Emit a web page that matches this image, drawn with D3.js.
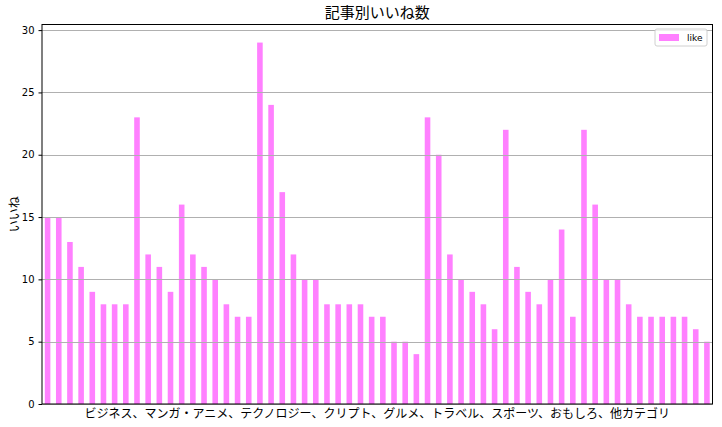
<!DOCTYPE html>
<html><head><meta charset="utf-8">
<script src="https://cdn.jsdelivr.net/npm/d3@7"></script>
<style>body{margin:0;background:#fff}svg{display:block}</style>
</head><body>
<svg id="c" width="722" height="427"></svg>
<script>
const titleText = "記事別いいね数";
const yLabel = "いいね";
const xLabel = "ビジネス、マンガ・アニメ、テクノロジー、クリプト、グルメ、トラベル、スポーツ、おもしろ、他カテゴリ";
const seriesName = "like";
const likes = [15,15,13,11,9,8,8,8,23,12,11,9,16,12,11,10,8,7,7,29,24,17,12,10,10,8,8,8,8,7,7,5,5,4,23,20,12,10,9,8,6,22,11,9,8,10,14,7,22,16,10,10,8,7,7,7,7,7,6,5];
const yTicks = [0,5,10,15,20,25,30];
const categories = likes.map((d,i)=>i);

const svg = d3.select("#c");
const L = 42, R = 712.5, T = 24.5, B = 404;
const barColor = "#ff80ff";
const font = "'Noto Sans CJK JP', 'DejaVu Sans', sans-serif";

const x = d3.scaleLinear().domain([-0.5, likes.length - 0.5]).range([L, R]);
const y = d3.scaleLinear().domain([0, d3.max(likes)*1.05]).range([B, T]);

// bars
svg.append("g").selectAll("rect").data(likes).join("rect")
  .attr("x", (d,i)=>x(categories[i]-0.25))
  .attr("width", (d,i)=>x(categories[i]+0.25)-x(categories[i]-0.25))
  .attr("y", d=>y(d))
  .attr("height", d=>y(0)-y(d))
  .attr("fill", barColor);

// grid (above bars)
svg.append("g").selectAll("line").data(yTicks).join("line")
  .attr("x1", L).attr("x2", R)
  .attr("y1", d=>Math.round(y(d))+0.5).attr("y2", d=>Math.round(y(d))+0.5)
  .attr("stroke", "#b0b0b0").attr("stroke-width", 1);

// y axis
const ya = svg.append("g").attr("transform", `translate(${L},0)`)
  .call(d3.axisLeft(y).tickValues(yTicks).tickSize(3.5).tickPadding(4).tickFormat(d3.format("d")));
ya.select(".domain").remove();
ya.selectAll("text").attr("font-family", "'DejaVu Sans', sans-serif").attr("font-size", 10).attr("fill","#000");
ya.selectAll("line").attr("stroke","#000");

// frame
svg.append("rect").attr("x", L).attr("y", T).attr("width", R-L).attr("height", B-T)
  .attr("fill","none").attr("stroke","#000").attr("stroke-width",1);

// title
svg.append("text").attr("x", (L+R)/2).attr("y", 18).attr("text-anchor","middle")
  .attr("font-family", font).attr("font-size", 15).attr("fill","#000").text(titleText);

// y label
svg.append("text").attr("transform", `translate(19,${(T+B)/2}) rotate(-90)`).attr("text-anchor","middle")
  .attr("font-family", font).attr("font-size", 12).attr("fill","#000").text(yLabel);

// x label
svg.append("text").attr("x", (L+R)/2).attr("y", 418).attr("text-anchor","middle")
  .attr("font-family", font).attr("font-size", 12).attr("fill","#000").text(xLabel);

// legend
const lg = svg.append("g").attr("transform", `translate(655,29)`);
lg.append("rect").attr("x",0).attr("y",0).attr("width",52).attr("height",17).attr("rx",2)
  .attr("fill","#fff").attr("fill-opacity",0.8).attr("stroke","#d0d0d0");
lg.append("rect").attr("x",4).attr("y",5).attr("width",20).attr("height",7).attr("fill",barColor);
lg.append("text").attr("x",32).attr("y",12).attr("font-family","'DejaVu Sans', sans-serif")
  .attr("font-size",9).attr("fill","#000").text(seriesName);
</script>
</body></html>
